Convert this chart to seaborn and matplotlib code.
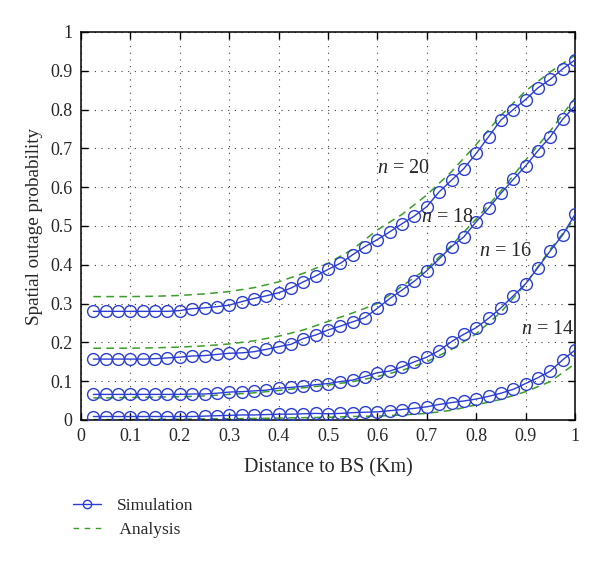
import numpy as np
import pandas as pd
import matplotlib
matplotlib.use("Agg")
import matplotlib.pyplot as plt
import seaborn as sns
from matplotlib.lines import Line2D

# ---------------- data ----------------
sim_x = [0.025, 0.05, 0.075, 0.1, 0.125, 0.15, 0.175, 0.2, 0.225, 0.25,
         0.275, 0.3, 0.325, 0.35, 0.375, 0.4, 0.425, 0.45, 0.475, 0.5,
         0.525, 0.55, 0.575, 0.6, 0.625, 0.65, 0.675, 0.7, 0.725, 0.75,
         0.775, 0.8, 0.825, 0.85, 0.875, 0.9, 0.925, 0.95, 0.975, 1.0]

sim_n20 = [0.280, 0.280, 0.280, 0.280, 0.280, 0.280, 0.280, 0.282, 0.287, 0.289,
           0.292, 0.296, 0.305, 0.313, 0.320, 0.328, 0.340, 0.356, 0.371, 0.388,
           0.404, 0.426, 0.447, 0.465, 0.485, 0.506, 0.526, 0.550, 0.588, 0.618,
           0.648, 0.687, 0.730, 0.773, 0.800, 0.826, 0.856, 0.878, 0.905, 0.928]

sim_n18 = [0.157, 0.157, 0.157, 0.157, 0.157, 0.158, 0.160, 0.162, 0.165, 0.166,
           0.169, 0.172, 0.173, 0.176, 0.182, 0.189, 0.195, 0.210, 0.219, 0.232,
           0.242, 0.253, 0.264, 0.288, 0.313, 0.335, 0.358, 0.385, 0.415, 0.447,
           0.472, 0.511, 0.546, 0.584, 0.620, 0.655, 0.694, 0.730, 0.775, 0.809]

sim_n16 = [0.066, 0.066, 0.066, 0.066, 0.066, 0.066, 0.066, 0.066, 0.067, 0.067,
           0.069, 0.072, 0.073, 0.075, 0.077, 0.082, 0.084, 0.087, 0.091, 0.094,
           0.099, 0.103, 0.112, 0.122, 0.126, 0.137, 0.150, 0.162, 0.179, 0.202,
           0.221, 0.238, 0.262, 0.289, 0.320, 0.351, 0.393, 0.436, 0.477, 0.530]

sim_n14 = [0.009, 0.009, 0.009, 0.009, 0.009, 0.009, 0.009, 0.009, 0.009, 0.010,
           0.011, 0.012, 0.013, 0.013, 0.014, 0.015, 0.015, 0.016, 0.017, 0.016,
           0.017, 0.019, 0.020, 0.021, 0.024, 0.027, 0.030, 0.034, 0.040, 0.045,
           0.049, 0.054, 0.061, 0.069, 0.079, 0.094, 0.109, 0.126, 0.155, 0.180]

ana_x = [0.025, 0.05, 0.1, 0.15, 0.2, 0.25, 0.3, 0.35, 0.4, 0.45, 0.5,
         0.55, 0.6, 0.65, 0.7, 0.75, 0.8, 0.85, 0.9, 0.95, 1.0]

ana_n20 = [0.318, 0.318, 0.318, 0.319, 0.321, 0.325, 0.331, 0.341, 0.356, 0.378, 0.404,
           0.440, 0.490, 0.530, 0.580, 0.640, 0.710, 0.785, 0.848, 0.897, 0.940]
ana_n18 = [0.185, 0.185, 0.185, 0.186, 0.188, 0.191, 0.196, 0.204, 0.216, 0.232, 0.254,
           0.276, 0.300, 0.345, 0.390, 0.450, 0.518, 0.590, 0.670, 0.745, 0.830]
ana_n16 = [0.057, 0.057, 0.058, 0.059, 0.060, 0.062, 0.066, 0.070, 0.076, 0.083, 0.090,
           0.099, 0.112, 0.128, 0.150, 0.182, 0.222, 0.278, 0.350, 0.440, 0.520]
ana_n14 = [0.001, 0.001, 0.001, 0.002, 0.002, 0.003, 0.003, 0.004, 0.005, 0.006, 0.007,
           0.009, 0.010, 0.013, 0.017, 0.025, 0.039, 0.053, 0.073, 0.099, 0.145]

curve_labels = ["n = 20", "n = 18", "n = 16", "n = 14"]
tick_vals = [0, 0.1, 0.2, 0.3, 0.4, 0.5, 0.6, 0.7, 0.8, 0.9, 1]
tick_labels = ["0", "0.1", "0.2", "0.3", "0.4", "0.5", "0.6", "0.7", "0.8", "0.9", "1"]

# ---------------- style ----------------
sns.set_theme(style="white")
plt.rcParams["font.family"] = ["Liberation Serif", "DejaVu Serif"]
plt.rcParams["mathtext.fontset"] = "custom"
plt.rcParams["mathtext.it"] = "Liberation Serif:italic"
plt.rcParams["mathtext.rm"] = "Liberation Serif"

BLUE = "#2b3ed4"
GREEN = "#3a9e28"

sim_df = pd.DataFrame({
    "x": sim_x * 4,
    "y": sim_n20 + sim_n18 + sim_n16 + sim_n14,
    "curve": sum([[c] * len(sim_x) for c in curve_labels], []),
})
ana_df = pd.DataFrame({
    "x": ana_x * 4,
    "y": ana_n20 + ana_n18 + ana_n16 + ana_n14,
    "curve": sum([[c] * len(ana_x) for c in curve_labels], []),
})

fig = plt.figure(figsize=(6.0, 5.63), dpi=100)
ax = fig.add_axes([81 / 600, 1 - 420 / 563, 494 / 600, 388 / 563])

for c in curve_labels:
    sub = ana_df[ana_df["curve"] == c]
    sns.lineplot(data=sub, x="x", y="y", ax=ax, color=GREEN, lw=1.1,
                 linestyle=(0, (5, 3.5)), legend=False, zorder=2)
for c in curve_labels:
    sub = sim_df[sim_df["curve"] == c]
    sns.lineplot(data=sub, x="x", y="y", ax=ax, color=BLUE, lw=1.0,
                 marker="o", markersize=8.5, markerfacecolor="none",
                 markeredgecolor=BLUE, markeredgewidth=1.0,
                 legend=False, zorder=3)

ax.set_xlim(0, 1)
ax.set_ylim(0, 1)
ax.set_xticks(tick_vals)
ax.set_xticklabels(tick_labels)
ax.set_yticks(tick_vals)
ax.set_yticklabels(tick_labels)
ax.tick_params(direction="in", length=5, width=1.0, color="black",
               top=True, right=True, bottom=True, left=True,
               labelsize=13, pad=6)
ax.grid(True, color="0.25", linestyle=(0, (1, 5)), linewidth=0.8)
for s in ax.spines.values():
    s.set_color("black")
    s.set_linewidth(1.1)

ax.set_xlabel("Distance to BS (Km)", fontsize=14.5, labelpad=9)
ax.set_ylabel("Spatial outage probability", fontsize=13.8, labelpad=5)

# curve annotations
ann_pos = [(0.599, 0.649), (0.689, 0.523), (0.806, 0.433), (0.891, 0.232)]
for lab, (tx, ty) in zip(curve_labels, ann_pos):
    ax.text(tx, ty, "$n$" + lab[1:], fontsize=14.5, ha="left", va="center",
            zorder=5)

handles = [
    Line2D([], [], color=BLUE, lw=1.0, marker="o", markersize=6,
           markerfacecolor="none", markeredgecolor=BLUE, markeredgewidth=1.0),
    Line2D([], [], color=GREEN, lw=1.0, linestyle=(0, (4, 4))),
]
fig.legend(handles, ["Simulation", " Analysis"], loc="upper left",
           bbox_to_anchor=(73 / 600, 1 - 498 / 563), frameon=False,
           fontsize=12.5, handlelength=1.6, handletextpad=0.9,
           labelspacing=0.45, borderaxespad=0, borderpad=0)

fig.savefig("out.png", dpi=100)
